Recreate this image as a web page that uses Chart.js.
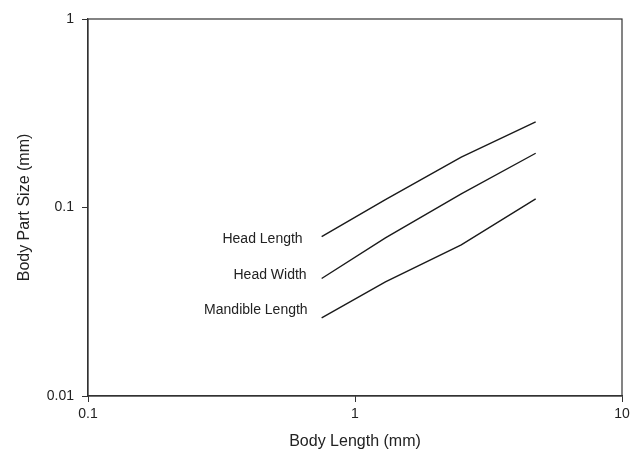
<!DOCTYPE html>
<html>
<head>
<meta charset="utf-8">
<script src="https://cdn.jsdelivr.net/npm/chart.js@4/dist/chart.umd.min.js"></script>
<style>
html,body{margin:0;padding:0;background:#fff;}
#wrap{width:640px;height:451px;}
</style>
</head>
<body>
<div id="wrap"><canvas id="c" width="640" height="451"></canvas></div>
<script>
const bodyLength = [0.75, 1.3, 2.5, 4.75];
const headLength = [0.07, 0.11, 0.185, 0.285];
const headWidth = [0.042, 0.069, 0.118, 0.194];
const mandibleLength = [0.026, 0.0403, 0.0633, 0.111];
const seriesNames = ['Head Length', 'Head Width', 'Mandible Length'];
const xTicks = [0.1, 1, 10];
const yTicks = [0.01, 0.1, 1];

const FONT = "'Liberation Sans', Arial, sans-serif";
const series = [headLength, headWidth, mandibleLength];

function pts(ys){ return bodyLength.map((x,i)=>({x:x, y:ys[i]})); }

const frame = {
  id:'frame',
  afterDraw(chart){
    const a = chart.chartArea, ctx = chart.ctx;
    ctx.save();
    ctx.strokeStyle = '#333';
    ctx.lineWidth = 1.2;
    ctx.strokeRect(a.left, a.top, a.right - a.left, a.bottom - a.top);
    ctx.restore();
  }
};
const labels = {
  id:'labels',
  afterDatasetsDraw(chart, args, opts){
    const ctx = chart.ctx;
    ctx.save();
    ctx.font = '14px ' + FONT;
    ctx.fillStyle = '#222';
    ctx.textAlign = 'right';
    ctx.textBaseline = 'middle';
    chart.data.datasets.forEach((ds, i) => {
      const p = chart.getDatasetMeta(i).data[0];
      const off = opts.offsets[i];
      ctx.fillText(ds.label, p.x - off[0], p.y + off[1]);
    });
    ctx.restore();
  }
};

new Chart(document.getElementById('c'), {
  type:'line',
  data:{
    datasets: series.map((s,i)=>({
      label: seriesNames[i],
      data: pts(s),
      borderColor:'#1a1a1a',
      borderWidth:1.4,
      pointRadius:0,
      fill:false,
      tension:0
    }))
  },
  options:{
    responsive:false,
    animation:false,
    layout:{padding:{top:19, right:18, left:0, bottom:0}},
    plugins:{
      legend:{display:false}, tooltip:{enabled:false},
      labels:{offsets:[[19,2],[15,-3],[14,-8]]}
    },
    scales:{
      x:{
        type:'logarithmic',
        min:0.1, max:10,
        afterBuildTicks(s){ s.ticks = xTicks.map(v=>({value:v})); },
        afterFit(s){ s.height = 55; },
        ticks:{
          color:'#222', font:{family:FONT, size:14}, padding:4, maxRotation:0,
          callback:(v)=> String(v)
        },
        grid:{display:true, drawOnChartArea:false, drawTicks:true, tickLength:6, color:'#333'},
        border:{display:true, color:'#333', width:1.2},
        title:{display:true, text:'Body Length (mm)', color:'#222', font:{family:FONT, size:16}, padding:{top:0, bottom:0}}
      },
      y:{
        type:'logarithmic',
        min:0.01, max:1,
        afterBuildTicks(s){ s.ticks = yTicks.map(v=>({value:v})); },
        afterFit(s){ s.width = 88; },
        ticks:{
          color:'#222', font:{family:FONT, size:14}, padding:8,
          callback:(v)=> String(v)
        },
        grid:{display:true, drawOnChartArea:false, drawTicks:true, tickLength:6, color:'#333'},
        border:{display:true, color:'#333', width:1.2},
        title:{display:true, text:'Body Part Size (mm)', color:'#222', font:{family:FONT, size:16}, padding:{top:15, bottom:0}}
      }
    }
  },
  plugins:[frame, labels]
});
</script>
</body>
</html>
